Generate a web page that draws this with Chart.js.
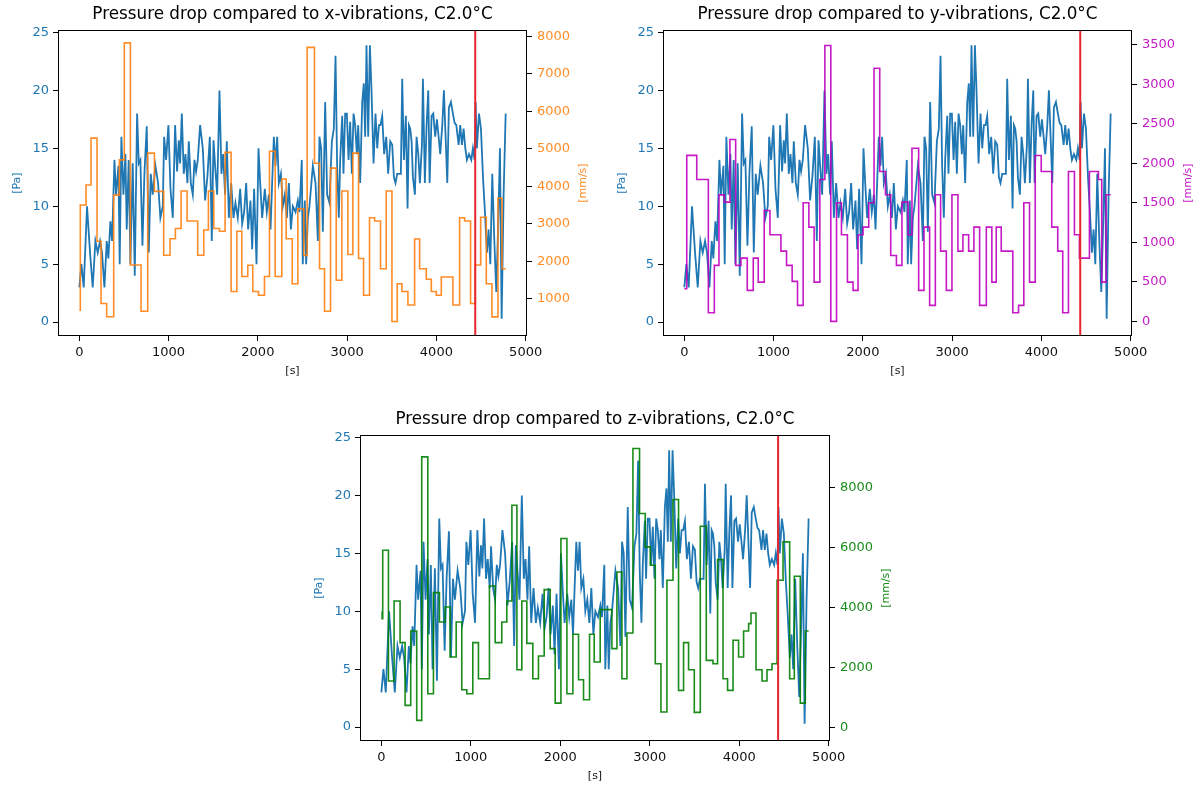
<!DOCTYPE html>
<html>
<head>
<meta charset="utf-8">
<title>Pressure drop vs vibrations</title>
<script src="https://cdn.jsdelivr.net/npm/chart.js@4.4.1/dist/chart.umd.min.js"></script>
<style>
  html, body { margin: 0; padding: 0; background: #fff; overflow: hidden; }
  canvas { position: absolute; }
</style>
</head>
<body>
<canvas id="chartX" width="600" height="390" style="left:0px;top:0px"></canvas>
<canvas id="chartY" width="595" height="390" style="left:605px;top:0px"></canvas>
<canvas id="chartZ" width="600" height="390" style="left:302px;top:405px"></canvas>
<script>
// pressure drop over the run [s] -> [Pa]
const PRESSURE_T = [
  0, 23, 49, 86, 120, 150, 180, 206, 232, 254, 281, 307, 325, 348, 367, 393, 411, 438, 452, 471,
  494, 516, 531, 553, 572, 598, 621, 647, 666, 684, 707, 729, 755, 778, 800, 822, 852, 882, 908, 935,
  950, 972, 998, 1021, 1047, 1073, 1095, 1114, 1129, 1148, 1170, 1189, 1211, 1226, 1249, 1271, 1290, 1308, 1327, 1353,
  1383, 1409, 1435, 1462, 1484, 1503, 1521, 1544, 1570, 1592, 1611, 1633, 1652, 1675, 1701, 1727, 1749, 1775, 1802, 1824,
  1846, 1869, 1891, 1917, 1936, 1958, 1985, 2007, 2026, 2048, 2078, 2100, 2123, 2142, 2160, 2179, 2198, 2216, 2235, 2258,
  2280, 2302, 2325, 2347, 2370, 2392, 2422, 2448, 2466,
  2492, 2503, 2526, 2541, 2560, 2578, 2616, 2646, 2672, 2690, 2709, 2728, 2754, 2776, 2802, 2829, 2851, 2870, 2888, 2907,
  2922, 2945, 2959, 2978, 2997, 3016, 3034, 3053, 3072, 3090, 3109, 3124, 3146, 3169, 3187, 3202, 3217, 3236, 3255, 3273,
  3296, 3318, 3337, 3356, 3374, 3393, 3415, 3438, 3460, 3483, 3505, 3524, 3542, 3561, 3583, 3602, 3617, 3636, 3658, 3677,
  3692, 3707, 3722, 3737, 3759, 3778, 3797, 3815, 3838, 3849, 3871, 3890, 3909, 3924, 3946, 3965, 3987, 4006, 4025, 4043,
  4066, 4084, 4103, 4122, 4140, 4163, 4185, 4204, 4223, 4249, 4267, 4286, 4305, 4324, 4342, 4365, 4391, 4409, 4428, 4439,
  4454, 4477, 4499, 4522, 4544, 4566, 4585, 4604, 4626, 4649, 4671, 4694, 4712, 4731, 4753, 4776
];
const PRESSURE_PA = [
  3, 5, 3, 10, 6, 3, 7, 6, 7, 6, 3, 7, 5.5, 8.7, 7, 14, 11, 13.5, 5, 16,
  11, 14.5, 8, 14, 5, 13.7, 4, 18, 13.7, 14, 6.6, 12.8, 16.9, 6, 12.8, 11, 13.5, 12, 9, 10,
  16, 14, 17, 11.5, 9, 17, 13, 15.7, 13.7, 18, 12.8, 14.5, 12, 15.6, 12, 11, 14, 13, 14, 17,
  15, 10.5, 12.6, 16, 7, 15.7, 13.5, 11, 20, 12.8, 14.5, 11, 15.6, 9, 12, 9, 10.3, 9, 11.5, 8.5,
  9.5, 12, 8, 10.5, 6.3, 11.5, 5, 15, 12, 9, 11.5, 9.5, 11, 8, 12, 16, 13.5, 16, 12, 12.8,
  10, 11, 9, 12, 8, 10, 9.5, 10.5, 9.5,
  14, 5, 10.5, 5, 9, 10, 13.5, 12, 7, 16, 15, 7.8, 19, 11, 10.3, 15.6, 16.7, 23, 13.5, 9,
  14, 17.8, 12.8, 18, 18, 14, 17.3, 12.8, 18, 17, 14.5, 17, 12, 19, 20.6, 16, 23.9, 16, 23.9, 20,
  13.7, 18, 15, 17, 17, 17.8, 14.5, 16, 12.8, 15.6, 15.3, 12.5, 12, 12.8, 12.8, 12.8, 21, 14, 17.8, 9.8,
  17, 16.7, 15.6, 12.5, 11, 16, 14.5, 12, 15.3, 21, 12, 17, 20, 12, 17.8, 18, 16, 17.5, 16, 14.5,
  17, 20, 16, 12, 18.5, 19, 18, 17.2, 17, 15.3, 17, 15.3, 16.7, 15, 14, 14.5, 14, 15, 14, 19,
  15, 18, 16.7, 12.5, 9.5, 6, 8, 5, 12.8, 7, 2.6, 9, 15, 0.3, 11, 18
];

// vibration velocity, each value holds from its start time to the next one [s] -> [mm/s]
const XVIB_T = [
  0, 11, 75, 131, 198, 243, 306, 385, 448, 504, 572, 691, 766, 841, 945, 1016, 1076, 1140, 1207, 1326,
  1394, 1446, 1506, 1570, 1633, 1700, 1764, 1820, 1887, 1943, 2007, 2074, 2130, 2194, 2268, 2317, 2385, 2448, 2515, 2552,
  2634, 2691, 2747, 2814, 2878, 2941, 3008, 3064, 3128, 3184, 3251, 3307, 3374, 3438, 3502, 3561, 3614, 3681, 3756, 3812,
  3887, 3943, 3999, 4055, 4185, 4260, 4316, 4383, 4436, 4496, 4559, 4622, 4690, 4735
];
const XVIB_MMS = [
  690, 3500, 4030, 5280, 2530, 870, 520, 3760, 4700, 7820, 1900, 665, 4880, 3860, 2160, 2600, 2870, 3870, 3070, 2160,
  2830, 3870, 2870, 2800, 4900, 1190, 2800, 1590, 1890, 1190, 1090, 1590, 4930, 1590, 4190, 2600, 1400, 3400, 2150, 7700,
  4610, 1800, 665, 4480, 1490, 3870, 2180, 4880, 2070, 1090, 3160, 3070, 1800, 3870, 390, 1400, 1190, 830, 2590, 1800,
  1520, 1190, 1090, 1580, 830, 3160, 3070, 870, 1900, 3170, 1400, 515, 3680, 1800
];

const YVIB_T = [
  0, 27, 139, 269, 336, 388, 448, 511, 575, 634, 705, 772, 828, 895, 959, 1082, 1145, 1208, 1268, 1331,
  1395, 1454, 1518, 1574, 1641, 1705, 1760, 1827, 1890, 1946, 2002, 2066, 2125, 2189, 2253, 2312, 2376, 2438, 2506, 2550,
  2625, 2685, 2748, 2812, 2871, 2935, 2998, 3065, 3121, 3185, 3244, 3308, 3383, 3445, 3494, 3550, 3680, 3744, 3803, 3867,
  3931, 3998, 4116, 4183, 4239, 4303, 4370, 4426, 4538, 4639, 4676, 4725
];
const YVIB_MMS = [
  413, 2100, 1795, 110, 708, 1600, 1509, 2300, 708, 800, 392, 800, 497, 1403, 1096, 889, 708, 506, 202, 1500,
  1192, 497, 1795, 3489, 0, 1500, 1096, 497, 392, 1096, 1192, 1500, 3202, 1896, 1601, 834, 708, 1509, 1096, 2190,
  392, 1192, 202, 1601, 889, 392, 1601, 889, 1096, 889, 1192, 202, 1192, 497, 1192, 889, 110, 202, 1500, 497,
  2099, 1896, 1192, 889, 110, 1896, 1096, 800, 1896, 1795, 497, 1601
];

const ZVIB_T = [
  0, 8, 15, 79, 142, 209, 265, 328, 395, 451, 519, 582, 649, 713, 768, 836, 899, 955, 1022, 1085,
  1208, 1272, 1346, 1402, 1459, 1515, 1570, 1626, 1693, 1756, 1820, 1887, 1943, 2007, 2074, 2141, 2204, 2260, 2327, 2379,
  2446, 2577, 2633, 2689, 2745, 2812, 2886, 2950, 3006, 3062, 3125, 3192, 3260, 3322, 3378, 3434, 3498, 3565, 3632, 3707,
  3758, 3819, 3870, 3931, 3993, 4049, 4105, 4132, 4188, 4255, 4311, 4367, 4423, 4490, 4564, 4616, 4683, 4739
];
const ZVIB_MMS = [
  3840, 3620, 5900, 1544, 4211, 2822, 733, 3211, 233, 9011, 1122, 4489, 3511, 4011, 2344, 3511, 1256, 1122, 2822, 1622,
  4711, 2822, 3511, 4211, 7400, 1922, 4211, 2800, 1622, 2378, 4589, 2622, 810, 6289, 1122, 3100, 1589, 922, 3100, 2178,
  3922, 2622, 5178, 1622, 3144, 9289, 7122, 6011, 5400, 2122, 511, 4900, 7589, 1233, 2822, 1922, 500, 6700, 2233, 2122,
  5589, 1622, 1233, 2900, 2344, 3211, 3456, 3811, 1922, 1544, 1922, 2122, 4900, 6178, 1622, 5033, 810, 3211
];

const RUN_END_T = 4776;   // last logged sample
const MARKER_T = 4435;    // vertical marker on every panel

// tick labels
const TIME_TICKS = [0, 1000, 2000, 3000, 4000, 5000];
const PA_TICKS = [0, 5, 10, 15, 20, 25];
const XVIB_TICKS = [1000, 2000, 3000, 4000, 5000, 6000, 7000, 8000];
const YVIB_TICKS = [0, 500, 1000, 1500, 2000, 2500, 3000, 3500];
const ZVIB_TICKS = [0, 2000, 4000, 6000, 8000];

const BLUE = '#1f77b4';
const FONT = "'DejaVu Sans', sans-serif";
Chart.defaults.font.family = FONT;

function points(ts, vs) {
  const n = Math.min(ts.length, vs.length);
  const out = [];
  for (let i = 0; i < n; i++) out.push({ x: ts[i], y: vs[i] });
  return out;
}

// last interval runs until the end of the log
function stepPoints(ts, vs) {
  const out = points(ts, vs);
  out.push({ x: RUN_END_T, y: vs[vs.length - 1] });
  return out;
}

function fixedTicks(list) {
  return scale => { scale.ticks = list.map(v => ({ value: v })); };
}

// box around the plot, the red marker and the rotated right-hand label
const panelExtras = {
  id: 'panelExtras',
  afterDatasetsDraw(chart, args, opts) {
    const { ctx, chartArea: a, scales } = chart;
    ctx.save();
    const mx = scales.x.getPixelForValue(MARKER_T);
    ctx.strokeStyle = '#e8262d';
    ctx.lineWidth = 2;
    ctx.beginPath();
    ctx.moveTo(mx, a.top);
    ctx.lineTo(mx, a.bottom);
    ctx.stroke();

    ctx.strokeStyle = '#000';
    ctx.lineWidth = 1;
    ctx.strokeRect(Math.round(a.left) + 0.5, Math.round(a.top) + 0.5,
      Math.round(a.right - a.left) - 1, Math.round(a.bottom - a.top) - 1);

    ctx.translate(a.right + opts.offset, (a.top + a.bottom) / 2);
    ctx.rotate(-Math.PI / 2);
    ctx.fillStyle = opts.color;
    ctx.font = '11px ' + FONT;
    ctx.textAlign = 'center';
    ctx.textBaseline = 'middle';
    ctx.fillText(opts.text, 0, 0);
    ctx.restore();
  }
};

function makePanel(id, title, vib) {
  const canvas = document.getElementById(id);
  return new Chart(canvas, {
    type: 'line',
    data: {
      datasets: [
        {
          label: vib.name,
          data: stepPoints(vib.t, vib.v),
          yAxisID: 'y1',
          borderColor: vib.color,
          borderWidth: 1.6,
          stepped: 'before',
          order: 1
        },
        {
          label: 'Pressure drop',
          data: points(PRESSURE_T, PRESSURE_PA),
          yAxisID: 'y',
          borderColor: BLUE,
          borderWidth: 1.8,
          order: 2
        }
      ]
    },
    options: {
      responsive: false,
      animation: false,
      events: [],
      layout: { padding: { left: 0, right: 0, top: 0, bottom: 10 } },
      elements: {
        point: { radius: 0 },
        line: { tension: 0, fill: false }
      },
      plugins: {
        legend: { display: false },
        tooltip: { enabled: false },
        title: {
          display: true,
          text: title,
          fullSize: false,
          color: '#000',
          font: { size: 16.8, weight: 'normal' },
          padding: { top: 5, bottom: 5 }
        },
        panelExtras: { text: '[mm/s]', color: vib.color, offset: 56 }
      },
      scales: {
        x: {
          type: 'linear',
          min: -239,
          max: 5015,
          afterBuildTicks: fixedTicks(TIME_TICKS),
          afterFit: s => { s.height = 44; },
          border: { display: false },
          grid: { drawOnChartArea: false, drawTicks: true, tickLength: 5, color: '#000' },
          ticks: { color: '#111', font: { size: 13 }, padding: 4, maxRotation: 0, autoSkip: false,
                   callback: v => String(v) },
          title: { display: true, text: '[s]', color: '#111', font: { size: 11 },
                   padding: { top: 0, bottom: 2 } }
        },
        y: {
          position: 'left',
          min: -1.2,
          max: 25.2,
          afterBuildTicks: fixedTicks(PA_TICKS),
          afterFit: s => { s.width = 58; },
          border: { display: false },
          grid: { drawOnChartArea: false, drawTicks: true, tickLength: 5, color: '#000' },
          ticks: { color: BLUE, font: { size: 13 }, padding: 4, callback: v => String(v) },
          title: { display: true, text: '[Pa]', color: BLUE, font: { size: 11 },
                   padding: { top: 11, bottom: 0 } }
        },
        y1: {
          position: 'right',
          min: vib.min,
          max: vib.max,
          afterBuildTicks: fixedTicks(vib.ticks),
          afterFit: s => { s.width = vib.axisWidth; },
          border: { display: false },
          grid: { drawOnChartArea: false, drawTicks: true, tickLength: 5, color: '#000' },
          ticks: { color: vib.color, font: { size: 13 }, padding: 5, callback: v => String(v) }
        }
      }
    },
    plugins: [panelExtras]
  });
}

makePanel('chartX', 'Pressure drop compared to x-vibrations, C2.0°C', {
  name: 'x-vibrations', t: XVIB_T, v: XVIB_MMS, color: 'rgba(255,127,14,0.9)',
  min: 5, max: 8160, ticks: XVIB_TICKS, axisWidth: 73
});
makePanel('chartY', 'Pressure drop compared to y-vibrations, C2.0°C', {
  name: 'y-vibrations', t: YVIB_T, v: YVIB_MMS, color: 'rgba(191,0,191,0.9)',
  min: -185, max: 3684, ticks: YVIB_TICKS, axisWidth: 68
});
makePanel('chartZ', 'Pressure drop compared to z-vibrations, C2.0°C', {
  name: 'z-vibrations', t: ZVIB_T, v: ZVIB_MMS, color: 'rgba(0,128,0,0.9)',
  min: -453, max: 9733, ticks: ZVIB_TICKS, axisWidth: 72
});
</script>
</body>
</html>
